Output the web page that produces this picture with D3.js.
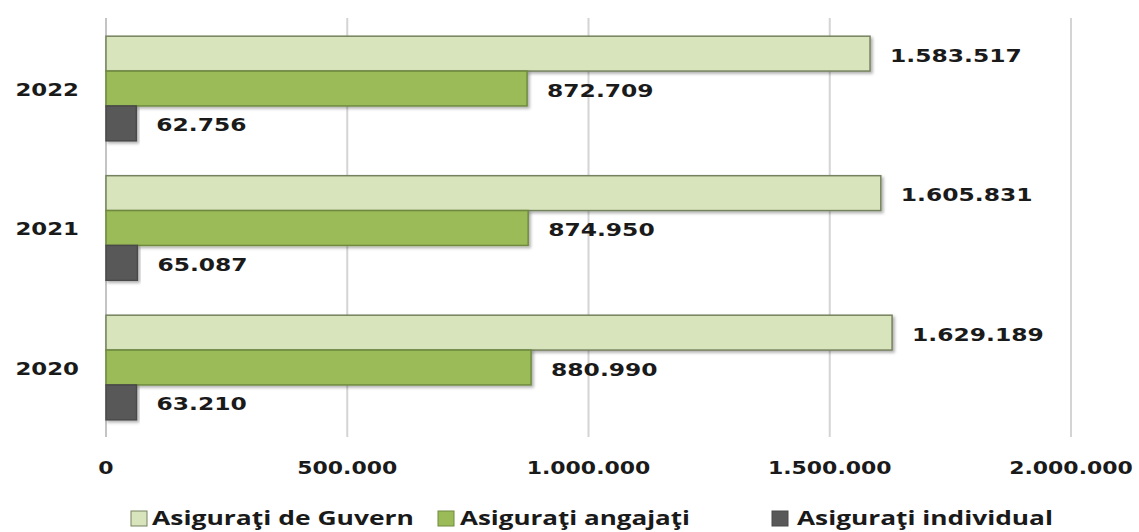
<!DOCTYPE html>
<html>
<head>
<meta charset="utf-8">
<script src="https://cdn.jsdelivr.net/npm/d3@7"></script>
<style>
  html, body { margin: 0; padding: 0; background: #ffffff; }
  svg { display: block; }
</style>
</head>
<body>
<svg id="chart" width="1139" height="532"></svg>
<script>
const years = ["2022", "2021", "2020"];
const seriesNames = ["Asiguraţi de Guvern", "Asiguraţi angajaţi", "Asiguraţi individual"];
const guvern = [1583517, 1605831, 1629189];
const angajati = [872709, 874950, 880990];
const individual = [62756, 65087, 63210];
const tickValues = [0, 500000, 1000000, 1500000, 2000000];

const seriesValues = [guvern, angajati, individual];
const fills = ["#d8e4bc", "#9bbb59", "#595959"];
const strokes = ["#76825f", "#6f8a3e", "#4a4a4a"];

const svg = d3.select("#chart");
const fmt = d3.formatLocale({ decimal: ",", thousands: ".", grouping: [3], currency: ["", ""] }).format(",d");

const x = d3.scaleLinear().domain([0, 2000000]).range([106, 1071]);
const y = d3.scaleBand().domain(years).range([18.75, 437.25]).paddingInner(0.25).paddingOuter(0.125);
const ys = d3.scaleBand().domain(d3.range(3)).range([0, y.bandwidth()]);

const numFont = "'DejaVu Sans', Verdana, sans-serif";
const SX = 1.27;

function stretchedText(g, px, py, str, anchor, size, sx) {
  const t = g.append("g").attr("transform", `translate(${px},${py}) scale(${sx},1)`);
  t.append("text")
    .attr("x", 0).attr("y", 0)
    .attr("text-anchor", anchor)
    .attr("dominant-baseline", "central")
    .attr("font-family", numFont)
    .attr("font-weight", "bold")
    .attr("font-size", size)
    .attr("fill", "#1a1a1a")
    .text(str);
}

// shadow filter
const defs = svg.append("defs");
const f = defs.append("filter").attr("id", "sh").attr("x", "-5%").attr("y", "-20%").attr("width", "115%").attr("height", "160%");
f.append("feDropShadow").attr("dx", 2).attr("dy", 2).attr("stdDeviation", 1.5).attr("flood-color", "#000").attr("flood-opacity", 0.3);

// gridlines
svg.append("g").selectAll("line")
  .data(tickValues.slice(1))
  .join("line")
  .attr("x1", d => x(d)).attr("x2", d => x(d))
  .attr("y1", 18).attr("y2", 437)
  .attr("stroke", "#d4d4d4").attr("stroke-width", 2);

// axis line
svg.append("line")
  .attr("x1", x(0)).attr("x2", x(0))
  .attr("y1", 18).attr("y2", 437)
  .attr("stroke", "#c4c4c4").attr("stroke-width", 2);

// bars
const groups = svg.append("g").selectAll("g")
  .data(years)
  .join("g")
  .attr("transform", d => `translate(0,${y(d)})`);

groups.each(function (yr, yi) {
  const g = d3.select(this);
  seriesValues.forEach((vals, si) => {
    const v = vals[yi];
    g.append("rect")
      .attr("x", x(0))
      .attr("y", ys(si))
      .attr("width", x(v) - x(0))
      .attr("height", ys.bandwidth())
      .attr("fill", fills[si])
      .attr("stroke", strokes[si])
      .attr("stroke-width", 1.5)
      .attr("filter", "url(#sh)");
  });
});

// value labels
groups.each(function (yr, yi) {
  const g = d3.select(this);
  seriesValues.forEach((vals, si) => {
    const v = vals[yi];
    stretchedText(g, x(v) + 20, ys(si) + ys.bandwidth() / 2 + 2, fmt(v), "start", 18, 1.3);
  });
});

// year labels
years.forEach(yr => {
  stretchedText(svg, 79, y(yr) + y.bandwidth() / 2 + 1, yr, "end", 18, SX);
});

// x tick labels
tickValues.forEach(t => {
  stretchedText(svg, x(t), 468, fmt(t), "middle", 18, 1.22);
});

// legend
const legendItems = [
  { sw: 131, tx: 152, w: 262 },
  { sw: 438, tx: 460, w: 230 },
  { sw: 772, tx: 797, w: 256 }
];
const lg = svg.append("g");
legendItems.forEach((it, i) => {
  lg.append("rect")
    .attr("x", it.sw).attr("y", 511)
    .attr("width", 16).attr("height", 15)
    .attr("fill", fills[i])
    .attr("stroke", strokes[i]).attr("stroke-width", 1);
  lg.append("text")
    .attr("x", it.tx).attr("y", 525)
    .attr("font-family", "'Open Sans', 'Noto Sans', sans-serif")
    .attr("font-weight", "bold")
    .attr("font-size", 19)
    .attr("fill", "#1a1a1a")
    .attr("textLength", it.w)
    .attr("lengthAdjust", "spacingAndGlyphs")
    .text(seriesNames[i]);
});
</script>
</body>
</html>
